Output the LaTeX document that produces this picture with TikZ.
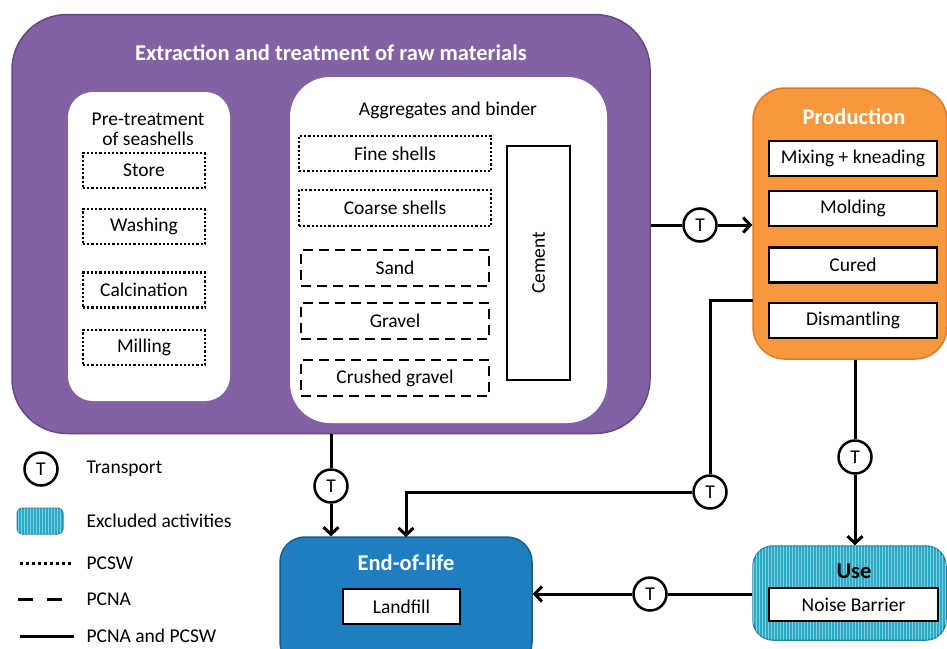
\documentclass[tikz,border=0pt]{standalone}
\usepackage{fontspec}
\setmainfont{Carlito}
\usetikzlibrary{arrows.meta,patterns}
\definecolor{purpfill}{RGB}{130,98,163}
\definecolor{purpline}{RGB}{100,74,128}
\definecolor{orfill}{RGB}{248,152,60}
\definecolor{orline}{RGB}{222,122,38}
\definecolor{blfill}{RGB}{30,126,192}
\definecolor{blline}{RGB}{24,92,142}
\definecolor{tlfill}{RGB}{46,170,198}
\definecolor{tlline}{RGB}{30,130,160}
\definecolor{tlhatch}{RGB}{120,210,225}
\begin{document}
\begin{tikzpicture}[x=1pt,y=-1pt,
  every node/.style={font=\fontsize{19.5}{22}\selectfont},
  bigbox/.style={draw, line width=1.5pt, inner sep=0pt},
  title/.style={font=\fontsize{22.5}{26}\selectfont\bfseries},
  whitebox/.style={fill=white, rounded corners=#1, inner sep=0pt},
  solidbox/.style={draw, fill=white, line width=2.5pt, inner sep=0pt},
  dotbox/.style={draw, line width=2.2pt, dash pattern=on 2.2pt off 2pt, inner sep=0pt, minimum height=35pt},
  dashbox/.style={draw, line width=2.7pt, dash pattern=on 10pt off 6pt, inner sep=0pt, minimum height=36pt},
  tcirc/.style={draw, circle, line width=2.5pt, fill=white, minimum size=33pt, inner sep=0pt},
  conn/.style={line width=3pt},
  arr/.style={line width=3pt, -{Straight Barb[length=7pt,width=15pt,line width=3pt]}},
]
\useasboundingbox (0,0) rectangle (947,648);

% ---- Extraction box ----
\node[bigbox, draw=purpline, fill=purpfill, rounded corners=55pt,
  minimum width=638pt, minimum height=419pt] (ext) at (331,224) {};
\node[title, text=white] (exttitle) at (331,53) {Extraction and treatment of raw materials};

\node[whitebox=25pt, minimum width=162pt, minimum height=309pt] (pre) at (149,246.5) {};
\node[align=center] (pretitle) at (148,129) {Pre-treatment\\[-2pt]of seashells};
\node[dotbox, minimum width=122pt] (store) at (144,170.5) {Store};
\node[dotbox, minimum width=122pt] (wash) at (144,226.5) {Washing};
\node[dotbox, minimum width=122pt] (calc) at (144,290) {Calcination};
\node[dotbox, minimum width=122pt] (mill) at (144,347.5) {Milling};

\node[whitebox=40pt, minimum width=317pt, minimum height=346pt] (agg) at (448.5,250) {};
\node (aggtitle) at (448,110) {Aggregates and binder};
\node[dotbox, minimum width=192pt] (fine) at (395,153.5) {Fine shells};
\node[dotbox, minimum width=192pt, minimum height=36pt] (coarse) at (395,208) {Coarse shells};
\node[dashbox, minimum width=188pt] (sand) at (395,268) {Sand};
\node[dashbox, minimum width=188pt] (gravel) at (395,321) {Gravel};
\node[dashbox, minimum width=188pt] (crushed) at (395,378) {Crushed gravel};
\node[solidbox, minimum width=63pt, minimum height=234pt] (cement) at (538.5,263) {};
\node[rotate=90] (cementtxt) at (cement.center) {Cement};

% ---- Production ----
\node[bigbox, draw=orline, fill=orfill, rounded corners=32pt,
  minimum width=194pt, minimum height=271pt] (prod) at (850,223.5) {};
\node[title, text=white] (prodtitle) at (854,117) {Production};
\node[solidbox, minimum width=168pt, minimum height=35pt] (mix) at (853,158.5) {Mixing + kneading};
\node[solidbox, minimum width=168pt, minimum height=35pt] (mold) at (853,208.5) {Molding};
\node[solidbox, minimum width=168pt, minimum height=35pt] (cured) at (853,265) {Cured};
\node[solidbox, minimum width=168pt, minimum height=35pt] (dism) at (853,320.5) {Dismantling};

% ---- End-of-life ----
\node[bigbox, draw=blline, fill=blfill, rounded corners=25pt,
  minimum width=252pt, minimum height=130pt] (eol) at (406,602) {};
\node[title, text=white] (eoltitle) at (406,563) {End-of-life};
\node[solidbox, minimum width=117pt, minimum height=35pt] (land) at (401.5,606.5) {Landfill};

% ---- Use ----
\node[bigbox, draw=tlline, fill=tlfill, rounded corners=20pt,
  postaction={pattern=vertical lines, pattern color=tlhatch},
  minimum width=193pt, minimum height=94pt] (use) at (849.5,593) {};
\node[title] (usetitle) at (854,571) {Use};
\node[solidbox, minimum width=169pt, minimum height=33pt] (noise) at (853.5,604.5) {Noise Barrier};

% ---- Transport circles ----
\node[tcirc] (t1) at (700,225) {T};
\node[tcirc] (t2) at (331,486) {T};
\node[tcirc] (t3) at (710,492) {T};
\node[tcirc] (t4) at (855,457) {T};
\node[tcirc] (t5) at (650,594) {T};

\coordinate (p3) at (753,300);
\coordinate (e2) at (406,537);

\draw[conn] (t1 -| ext.east) -- (t1);
\draw[arr] (t1) -- (t1 -| prod.west);
\draw[conn] (ext.south) -- (t2);
\draw[arr] (t2) -- (t2 |- eol.north);
\draw[conn] (p3) -| (t3);
\draw[arr] (t3) -| (e2);
\draw[conn] (t4 |- prod.south) -- (t4);
\draw[arr] (t4) -- (t4 |- use.north);
\draw[conn] (t5 -| use.west) -- (t5);
\draw[arr] (t5) -- (t5 -| eol.east);

% ---- Legend ----
\node[tcirc] (lt) at (41,469) {T};
\node[anchor=west] (ltxt) at (83,469) {Transport};
\node[draw=tlline, fill=tlfill, rounded corners=5pt, line width=1pt,
  postaction={pattern=vertical lines, pattern color=tlhatch},
  minimum width=46pt, minimum height=26pt, inner sep=0pt] (lex) at (40,521) {};
\node[anchor=west] (lextxt) at (83,521) {Excluded activities};
\coordinate (ld1) at (20,563);
\coordinate (ld2) at (72,563);
\draw[line width=3pt, dash pattern=on 3pt off 3pt] (ld1) -- (ld2);
\node[anchor=west] (ldtxt) at (83,563) {PCSW};
\coordinate (la1) at (18,599);
\coordinate (la2) at (64,599);
\draw[line width=3pt, dash pattern=on 15pt off 14pt] (la1) -- (la2);
\node[anchor=west] (latxt) at (83,599) {PCNA};
\coordinate (ls1) at (20,636);
\coordinate (ls2) at (74,636);
\draw[line width=3pt] (ls1) -- (ls2);
\node[anchor=west] (lstxt) at (83,636) {PCNA and PCSW};
\end{tikzpicture}
\end{document}
